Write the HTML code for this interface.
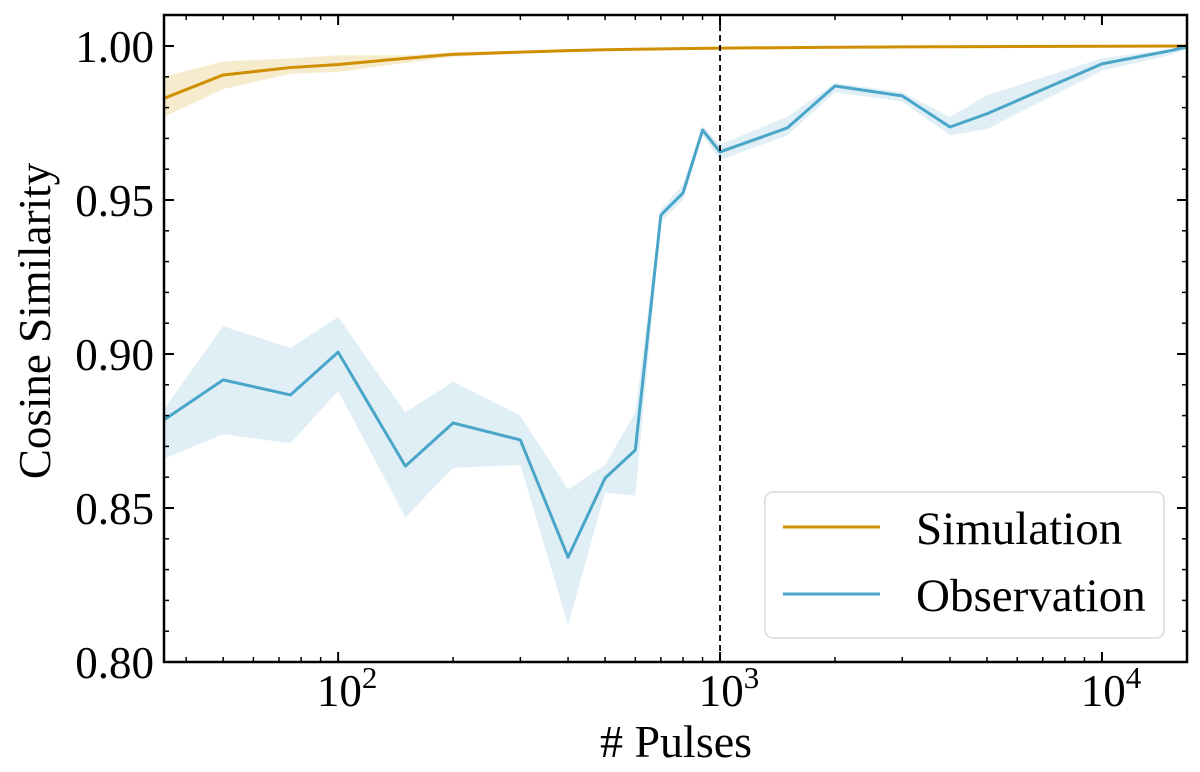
<!DOCTYPE html>
<html><head><meta charset="utf-8"><style>
body{margin:0;background:#fff}
svg{display:block;font-family:"Liberation Serif","DejaVu Serif",serif}
</style></head><body>
<svg id="chart" width="1200" height="772" viewBox="0 0 1200 772"></svg>
<script>
const obsX=[35,50,75,100,150,200,300,400,500,600,700,800,900,1000,1500,2000,3000,4000,5000,10000,15000,16700];
const obsY=[0.8786,0.8916,0.8867,0.9006,0.8636,0.8776,0.8721,0.834,0.8597,0.8688,0.9451,0.9523,0.9727,0.9656,0.9734,0.987,0.9838,0.9737,0.978,0.9942,0.9984,0.9997];
const obsHi=[0.882,0.909,0.902,0.912,0.881,0.891,0.880,0.856,0.864,0.881,0.947,0.955,0.974,0.968,0.977,0.988,0.985,0.977,0.984,0.996,0.999,1.0];
const obsLo=[0.866,0.874,0.871,0.888,0.847,0.863,0.864,0.812,0.855,0.854,0.943,0.950,0.971,0.963,0.971,0.985,0.982,0.971,0.973,0.992,0.997,0.999];
const simX=[35,50,75,100,150,200,300,400,500,1000,2000,3000,5000,10000,16700];
const simY=[0.983,0.9906,0.993,0.994,0.996,0.9973,0.998,0.9985,0.9988,0.9993,0.9996,0.9997,0.9998,0.9999,1.0];
const simHi=[0.990,0.995,0.996,0.997,0.997,0.998,0.9985,0.999,0.999,0.9996,0.9998,0.9999,0.9999,1.0,1.0];
const simLo=[0.977,0.986,0.991,0.9916,0.9945,0.9965,0.9975,0.998,0.9985,0.999,0.9994,0.9995,0.9997,0.9998,0.9999];
const yTicks=[0.80,0.85,0.90,0.95,1.00];
const yTickLabels=["0.80","0.85","0.90","0.95","1.00"];
const xMajor=[100,1000,10000];
const xMajorExp=["2","3","4"];

const L=164,R=1187,T=15,B=662;
const xmin=35,xmax=16700;
function X(v){return L+(Math.log10(v)-Math.log10(xmin))/(Math.log10(xmax)-Math.log10(xmin))*(R-L);}
function Y(v){return 662-(v-0.80)/0.20*616;}
const svg=document.getElementById('chart');
const NS='http://www.w3.org/2000/svg';
function mk(tag,attrs,parent){const e=document.createElementNS(NS,tag);for(const k in attrs)e.setAttribute(k,attrs[k]);(parent||svg).appendChild(e);return e;}
const clip=mk('clipPath',{id:'pc'});mk('rect',{x:L,y:T,width:R-L,height:B-T},clip);
const g=mk('g',{'clip-path':'url(#pc)'});
function band(xs,lo,hi,color,name){
  let d='';xs.forEach((x,i)=>{d+=(i?'L':'M')+X(x)+','+Y(hi[i]);});
  for(let i=xs.length-1;i>=0;i--)d+='L'+X(xs[i])+','+Y(lo[i]);
  const p=mk('path',{d:d+'Z',fill:color,'fill-opacity':0.2,stroke:'none'},g);
  
  
}
function line(xs,ys,color,name){
  const p=mk('polyline',{points:xs.map((x,i)=>X(x)+','+Y(ys[i])).join(' '),fill:'none',stroke:color,'stroke-width':3,'stroke-linejoin':'round'},g);
  
  
}
band(simX,simLo,simHi,'#d99a0a','simulation-band');
band(obsX,obsLo,obsHi,'#63aed0','observation-band');
line(simX,simY,'#d08f00','simulation-line');
line(obsX,obsY,'#4aa6c8','observation-line');

const vl=mk('line',{x1:X(1000),x2:X(1000),y1:T,y2:B,stroke:'#000','stroke-width':1.8,'stroke-dasharray':'6,4'});



yTicks.forEach((v,i)=>{
  mk('line',{x1:L,x2:L+10,y1:Y(v),y2:Y(v),stroke:'#000','stroke-width':2});
  mk('line',{x1:R,x2:R-10,y1:Y(v),y2:Y(v),stroke:'#000','stroke-width':2});
  const t=mk('text',{x:154,y:Y(v)+16,'text-anchor':'end','font-size':45});
  t.textContent=yTickLabels[i];
  
  
});
for(let v=0.80;v<=1.0001;v+=0.01){
  mk('line',{x1:L,x2:L+5,y1:Y(v),y2:Y(v),stroke:'#000','stroke-width':1.5});
  mk('line',{x1:R,x2:R-5,y1:Y(v),y2:Y(v),stroke:'#000','stroke-width':1.5});
}
for(let e=1;e<=4;e++)for(let m=1;m<10;m++){
  const v=m*Math.pow(10,e);if(v<xmin||v>xmax)continue;
  const len=m===1?10:5,w=m===1?2:1.5;
  mk('line',{x1:X(v),x2:X(v),y1:B,y2:B-len,stroke:'#000','stroke-width':w});
  mk('line',{x1:X(v),x2:X(v),y1:T,y2:T+len,stroke:'#000','stroke-width':w});
}
xMajor.forEach((v,i)=>{
  const t=mk('text',{x:X(v)+9,y:706,'text-anchor':'middle','font-size':45});
  t.textContent='10';
  const s=mk('tspan',{dy:-18,'font-size':31},t);s.textContent=xMajorExp[i];
  
  
});
const fr=mk('rect',{x:L,y:T,width:R-L,height:B-T,fill:'none',stroke:'#000','stroke-width':2.5});


</script>
<svg style="position:absolute;left:0;top:0" width="1200" height="772">
<text x="676" y="757" text-anchor="middle" font-size="46" font-family="Liberation Serif,serif"># Pulses</text>
<text transform="translate(50,321) rotate(-90)" text-anchor="middle" font-size="45" font-family="Liberation Serif,serif">Cosine Similarity</text>
<g>
<rect x="765" y="492" width="399" height="146" rx="8" fill="#fff" fill-opacity="0.85" stroke="#d9d9d9" stroke-width="1.5"/>
<line x1="783" x2="880" y1="527" y2="527" stroke="#d08f00" stroke-width="3"/>
<text x="916" y="544" font-size="47" font-family="Liberation Serif,serif">Simulation</text>
<line x1="783" x2="880" y1="594" y2="594" stroke="#4aa6c8" stroke-width="3"/>
<text x="916" y="611" font-size="47" font-family="Liberation Serif,serif">Observation</text>
</g>
</svg>
</body></html>
